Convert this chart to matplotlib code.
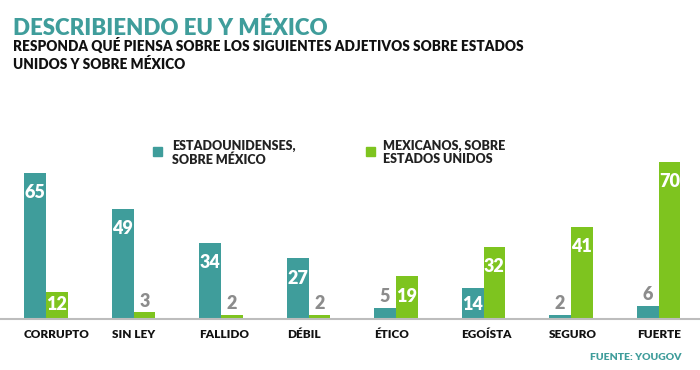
import numpy as np
import matplotlib
matplotlib.use("Agg")
import matplotlib.pyplot as plt

categories = ["CORRUPTO", "SIN LEY", "FALLIDO", "DÉBIL", "ÉTICO", "EGOÍSTA", "SEGURO", "FUERTE"]
estadounidenses = [65, 49, 34, 27, 5, 14, 2, 6]
mexicanos = [12, 3, 2, 2, 19, 32, 41, 70]
series_names = ["ESTADOUNIDENSES,\nSOBRE MÉXICO", "MEXICANOS, SOBRE\nESTADOS UNIDOS"]

teal = "#3f9d9b"
green = "#7ec41f"
gray = "#8c8c8c"

plt.rcParams['font.family'] = ['Lato', 'DejaVu Sans']

W, H = 700, 370
fig = plt.figure(figsize=(7, 3.7), dpi=100)
ax = fig.add_axes([0, 51 / H, 1, 189 / H])

x = np.arange(len(categories))
bw = 0.25
ax.bar(x - bw / 2, estadounidenses, bw, color=teal)
ax.bar(x + bw / 2, mexicanos, bw, color=green)
ax.set_xlim(-46 / 87.5, (W - 46) / 87.5)
ax.set_ylim(0, 189 / 2.25)
ax.axis('off')
ax.axhline(0, color="#bdbdbd", lw=1.5, clip_on=False)

px = 1 / 2.25  # data units per pixel
for xs, vals in [(x - bw / 2, estadounidenses), (x + bw / 2, mexicanos)]:
    for xi, v in zip(xs, vals):
        if v < 10:
            ax.text(xi, v + 11 * px, str(v), ha='center', va='center',
                    color=gray, fontsize=13, fontweight='heavy')
        else:
            y = max(v - 20 * px, 15 * px)
            ax.text(xi, y, str(v), ha='center', va='center',
                    color='white', fontsize=13, fontweight='heavy')

for xi, c in zip(x, categories):
    ax.text(xi - bw, -15 * px, c, ha='left', va='center',
            fontsize=8.5, fontweight='heavy', color='#111111', clip_on=False)

# legend
for sx, tx, col, name in [(153, 172, teal, series_names[0]), (366, 383, green, series_names[1])]:
    fig.patches.append(plt.Rectangle((sx / W, 1 - 156 / H), 9 / W, 9 / H,
                                     transform=fig.transFigure, color=col))
    fig.text(tx / W, 1 - 140 / H, name, ha='left', va='top', fontsize=9,
             fontweight='heavy', color='#222222', linespacing=1.1)

fig.text(13 / W, 1 - 35 / H, "DESCRIBIENDO EU Y MÉXICO", fontsize=16,
         fontweight='heavy', color=teal, va='baseline')
fig.text(13 / W, 1 - 51 / H, "RESPONDA QUÉ PIENSA SOBRE LOS SIGUIENTES ADJETIVOS SOBRE ESTADOS",
         fontsize=9.8, fontweight='heavy', color='#111111', va='baseline')
fig.text(13 / W, 1 - 69 / H, "UNIDOS Y SOBRE MÉXICO",
         fontsize=9.8, fontweight='heavy', color='#111111', va='baseline')
fig.text(682 / W, 1 - 357 / H, "FUENTE: YOUGOV", ha='right', va='center',
         fontsize=7.5, fontweight='heavy', color=teal)

fig.savefig("out.png", dpi=100)
